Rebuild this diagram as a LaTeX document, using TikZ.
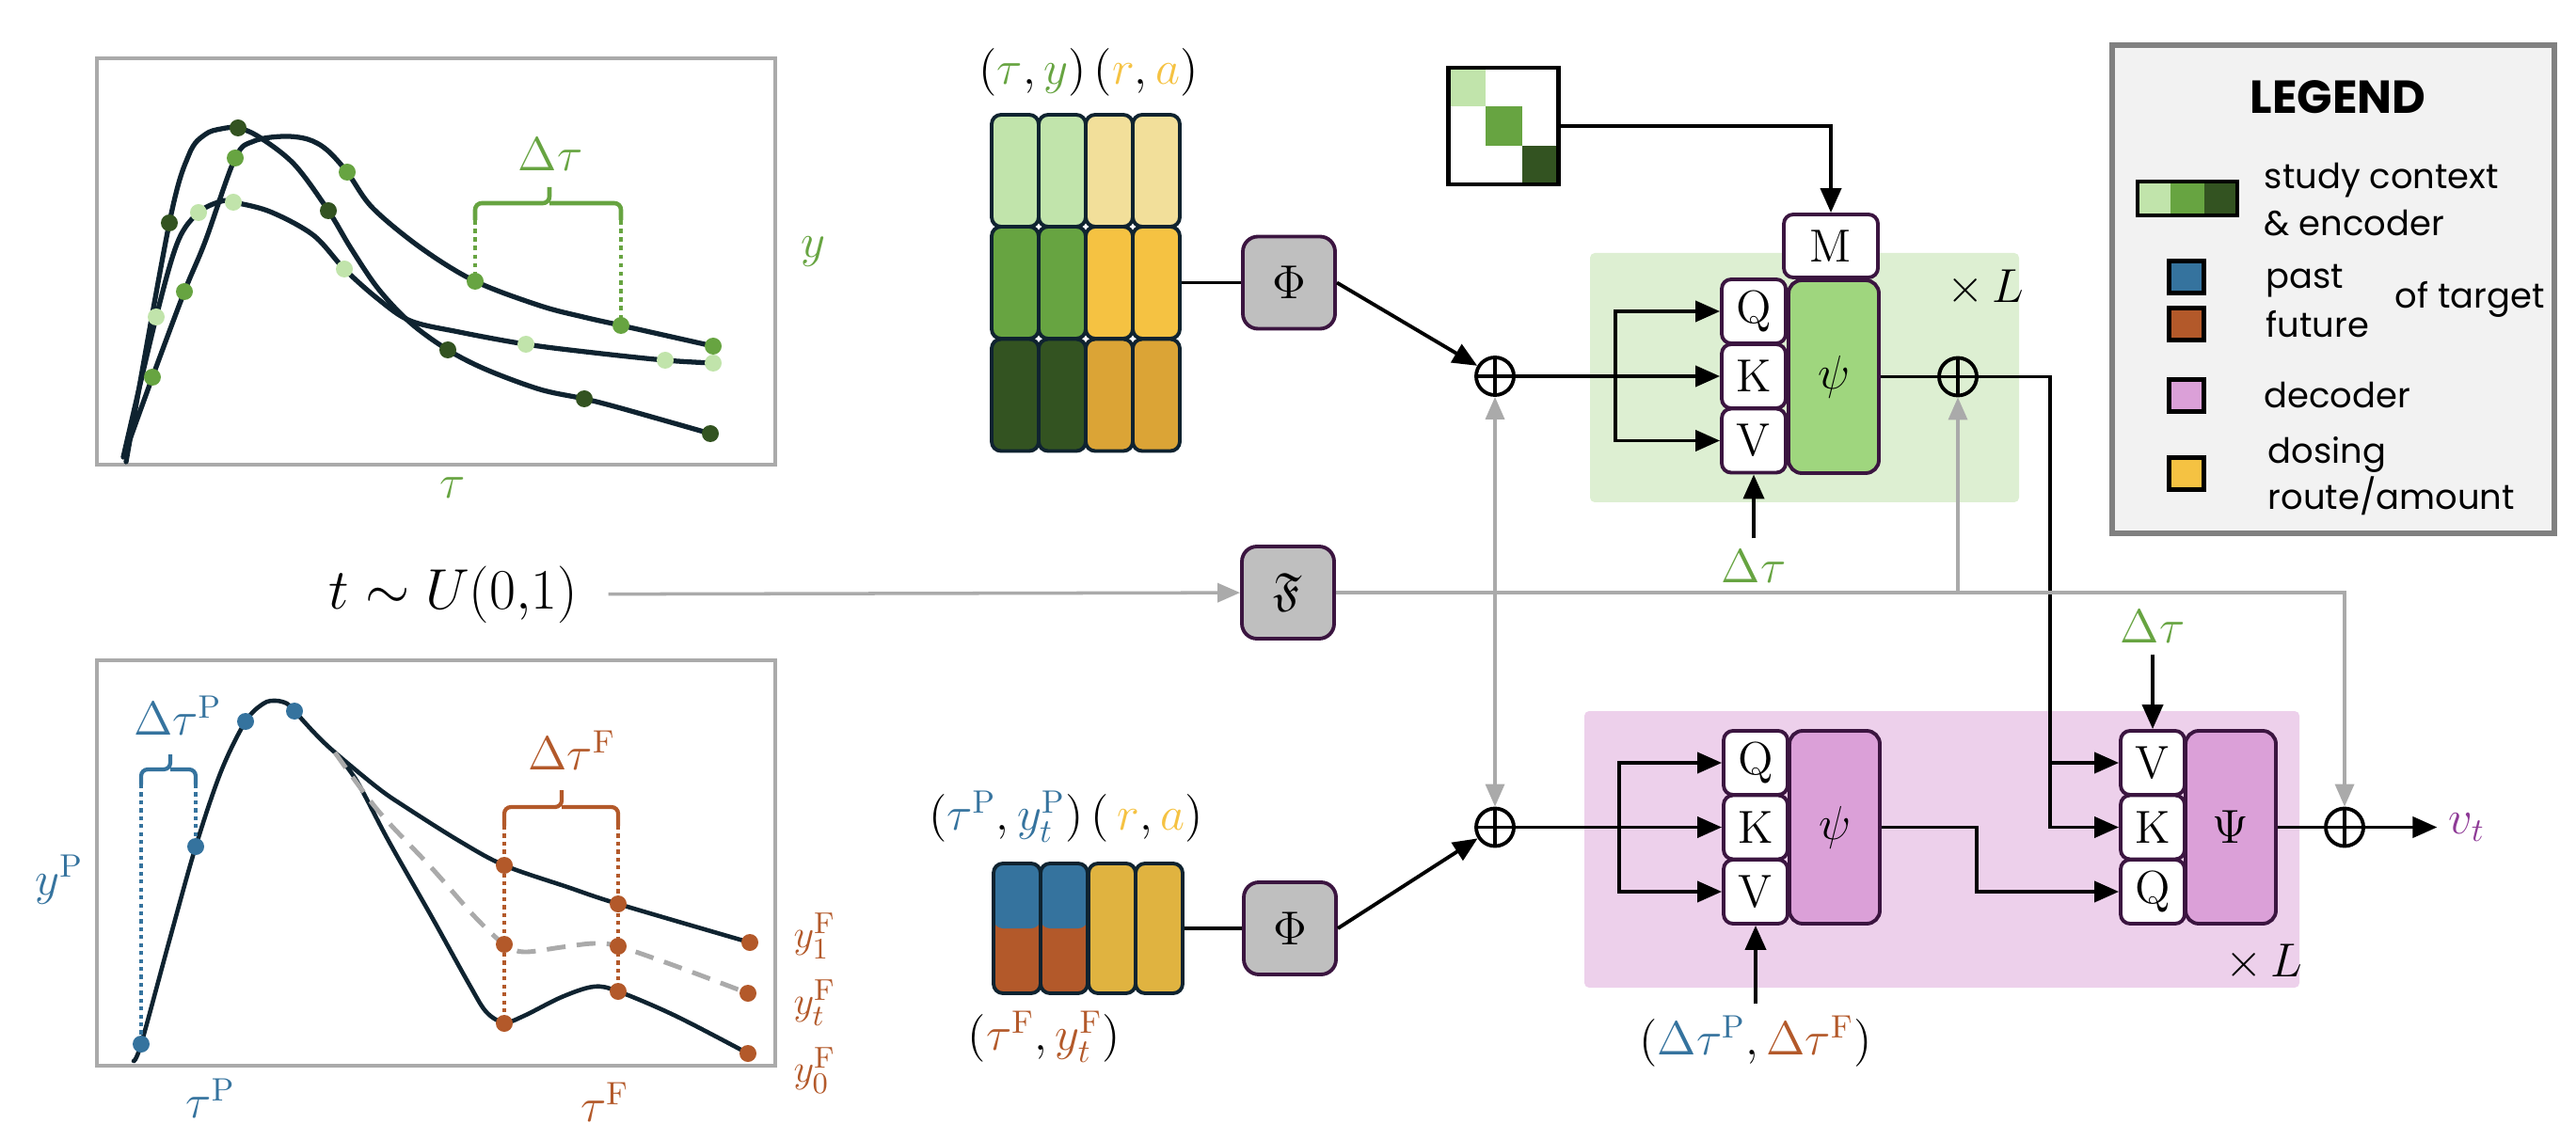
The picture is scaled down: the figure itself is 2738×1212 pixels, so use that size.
\documentclass[tikz,border=0pt]{standalone}
\usepackage{amsmath, amssymb}
\usepackage{fontspec}
\newfontfamily\legendfont{Poppins}
\usepackage{tikz}
\usetikzlibrary{positioning, calc, arrows.meta}

\definecolor{ctxlight}{HTML}{C1E4AB}
\definecolor{ctxmid}{HTML}{67A441}
\definecolor{ctxdark}{HTML}{335321}
\definecolor{doselight}{HTML}{F2DF9A}
\definecolor{dosemid}{HTML}{F5C242}
\definecolor{dosedark}{HTML}{DBA436}
\definecolor{dosebot}{HTML}{E0B340}
\definecolor{past}{HTML}{35739E}
\definecolor{fut}{HTML}{B3592A}
\definecolor{decfill}{HTML}{DBA0D8}
\definecolor{decbg}{HTML}{EDD0EB}
\definecolor{encfill}{HTML}{9FD67E}
\definecolor{encbg}{HTML}{DDEFD2}
\definecolor{opgray}{HTML}{BFBFBF}
\definecolor{boxborder}{HTML}{3B1540}
\definecolor{curvenavy}{HTML}{0F2330}
\definecolor{linegray}{HTML}{AAAAAA}
\definecolor{vtpurple}{HTML}{8E3A96}
\definecolor{legbg}{HTML}{F2F2F2}
\definecolor{legborder}{HTML}{808080}

\begin{document}
\begin{tikzpicture}[x=0.1mm, y=-0.1mm, font=\fontsize{14}{17}\selectfont]
\useasboundingbox (0,0) rectangle (2738,1212);

% Define styles
\tikzstyle{token} = [rectangle, rounded corners=1mm, draw=curvenavy, line width=1.1pt, minimum width=5mm, minimum height=11.9mm, inner sep=0pt]
\tikzstyle{op} = [rectangle, rounded corners=1.6mm, draw=boxborder, fill=opgray, line width=1.1pt, minimum width=9.8mm, minimum height=9.8mm]
\tikzstyle{qkv} = [rectangle, rounded corners=1mm, draw=boxborder, fill=white, line width=1.1pt, minimum width=6.8mm, minimum height=6.8mm, inner sep=0pt]
\tikzstyle{mix} = [rectangle, rounded corners=1.4mm, draw=boxborder, line width=1.1pt, minimum width=9.6mm, minimum height=20.5mm]
\tikzstyle{plus} = [circle, draw, line width=1.1pt, minimum size=4mm, inner sep=0pt, path picture={\draw[line width=1.1pt] (path picture bounding box.north) -- (path picture bounding box.south) (path picture bounding box.west) -- (path picture bounding box.east);}]
\tikzstyle{arrow} = [line width=1.1pt, -{Triangle[length=2.6mm, width=2.2mm]}]
\tikzstyle{garrow} = [line width=1pt, draw=linegray, -{Triangle[length=2.4mm, width=2mm]}]
\tikzstyle{gline} = [line width=1pt, draw=linegray]
\tikzstyle{curve} = [draw=curvenavy, line width=1.5pt, line cap=round]
\tikzstyle{plotframe} = [draw=linegray, line width=1.3pt]
\tikzstyle{legkey} = [rectangle, draw=black, line width=1.3pt, minimum width=3.7mm, minimum height=3.4mm, inner sep=0pt]
\tikzstyle{legtext} = [anchor=west, align=left, inner sep=0pt, font=\legendfont\fontsize{10.5}{14}\selectfont]

% Block backgrounds
\node[rectangle, rounded corners=0.5mm, fill=encbg, minimum width=45.6mm, minimum height=26.5mm] (encblock) at (1918,401.5) {};
\node[rectangle, rounded corners=0.5mm, fill=decbg, minimum width=76mm, minimum height=29.4mm] (decblock) at (2064,903) {};

% Top plot - study context curves
\draw[plotframe] (103,62) rectangle (824,494);
\draw[curve] plot[smooth, tension=0.55] coordinates {(134,491) (180,237) (201,164) (218,143) (235,137) (253,136) (276,146) (313,175) (349,224) (373,264) (402,307) (436,343) (476,372) (517,393) (574,414) (621,424) (660,434) (755,461)};
\draw[curve] plot[smooth, tension=0.55] coordinates {(132,484) (162,401) (196,310) (218,257) (250,168) (270,150) (301,145) (327,148) (347,159) (369,183) (396,221) (448,264) (505,299) (574,325) (620,337) (660,346) (758,368)};
\draw[curve] plot[smooth, tension=0.55] coordinates {(131,486) (166,337) (189,257) (211,226) (235,214) (248,215) (287,225) (333,250) (366,286) (402,318) (436,341) (488,353) (559,366) (631,375) (707,383) (758,386)};
\foreach \x/\y in {180/237, 253/136, 349/224, 476/372, 621/424, 755/461}
  \fill[ctxdark] (\x,\y) circle (0.9mm);
\foreach \x/\y in {162/401, 196/310, 250/168, 369/183, 505/299, 660/346, 758/368}
  \fill[ctxmid] (\x,\y) circle (0.9mm);
\foreach \x/\y in {166/337, 211/226, 248/215, 366/286, 559/366, 707/383, 758/386}
  \fill[ctxlight] (\x,\y) circle (0.9mm);
\draw[ctxmid, line width=1.3pt, rounded corners=2pt] (505,234) |- (584,216) -- (584,199);
\draw[ctxmid, line width=1.3pt, rounded corners=2pt] (584,216) -| (660,234);
\draw[ctxmid, line width=1.3pt, dash pattern=on 1.3pt off 1.3pt] (505,234) -- (505,299) (660,234) -- (660,346);
\node[text=ctxmid] (ctxdtau) at (585,164) {$\Delta\tau$};
\node[text=ctxmid] (ctxy) at (864,268) {$y$};
\node[text=ctxmid] (ctxtau) at (481,519) {$\tau$};

% Bottom plot - target past and future
\draw[plotframe] (103,702) rectangle (824,1133);
\draw[curve, line width=1.3pt] plot[smooth, tension=0.55] coordinates {(142,1128) (150,1110) (180,1000) (208,900) (235,820) (261,767) (280,748) (293,745) (305,748) (313,756) (335,780) (356,800) (402,838) (431,858) (488,894) (536,920) (603,943) (657,961) (797,1002)};
\draw[curve, line width=1.3pt] plot[smooth, tension=0.55] coordinates {(356,800) (379,830) (413,894) (459,975) (499,1047) (517,1076) (536,1087) (557,1080) (597,1060) (631,1049) (657,1054) (718,1080) (795,1120)};
\draw[linegray, line width=1.4pt, dash pattern=on 2mm off 1.2mm] plot[smooth, tension=0.55] coordinates {(356,800) (402,862) (459,923) (505,975) (536,1004) (557,1012) (597,1007) (631,1003) (657,1006) (718,1027) (795,1056)};
\foreach \x/\y in {150/1110, 208/900, 261/767, 313/756}
  \fill[past] (\x,\y) circle (0.9mm);
\foreach \x/\y in {536/920, 536/1004, 536/1088, 657/961, 657/1006, 657/1054, 797/1002, 795/1056, 795/1120}
  \fill[fut] (\x,\y) circle (0.9mm);
\draw[past, line width=1.2pt, rounded corners=2pt] (150,834) |- (181,818) -- (181,802);
\draw[past, line width=1.2pt, rounded corners=2pt] (181,818) -| (208,834);
\draw[past, line width=1.2pt, dash pattern=on 1.2pt off 1.2pt] (150,834) -- (150,1110) (208,834) -- (208,900);
\draw[fut, line width=1.2pt, rounded corners=2pt] (536,878) |- (597,858) -- (597,840);
\draw[fut, line width=1.2pt, rounded corners=2pt] (597,858) -| (657,878);
\draw[fut, line width=1.2pt, dash pattern=on 1.2pt off 1.2pt] (536,878) -- (536,1088) (657,878) -- (657,1054);
\node[text=past] (pastdtau) at (189,761) {$\Delta\tau^{\mathrm{P}}$};
\node[text=fut] (futdtau) at (608,798) {$\Delta\tau^{\mathrm{F}}$};
\node[text=past] (pasty) at (63,935) {$y^{\mathrm{P}}$};
\node[text=past] (pasttau) at (224,1168) {$\tau^{\mathrm{P}}$};
\node[text=fut] (futtau) at (643,1172) {$\tau^{\mathrm{F}}$};
\node[text=fut, inner sep=0pt, font=\fontsize{13}{15}\selectfont] (futyone) at (866,995) {$y_1^{\mathrm{F}}$};
\node[text=fut, inner sep=0pt, font=\fontsize{13}{15}\selectfont] (futyt) at (866,1066) {$y_t^{\mathrm{F}}$};
\node[text=fut, inner sep=0pt, font=\fontsize{13}{15}\selectfont] (futyzero) at (866,1138) {$y_0^{\mathrm{F}}$};

% Context tokens
\node (ctxlabel) at (1157,77) {$(\textcolor{ctxmid}{\tau},\textcolor{ctxmid}{y})\,(\textcolor{dosemid}{r},\textcolor{dosemid}{a})$};
\foreach \rw/\ya/\gc/\dc in {1/181.5/ctxlight/doselight, 2/300.5/ctxmid/dosemid, 3/420/ctxdark/dosedark} {
  \node[token, fill=\gc] (tok\rw1) at (1079,\ya) {};
  \node[token, fill=\gc] (tok\rw2) at (1129,\ya) {};
  \node[token, fill=\dc] (tok\rw3) at (1179,\ya) {};
  \node[token, fill=\dc] (tok\rw4) at (1229,\ya) {};
}
\node[op] (phienc) at (1370,300.5) {$\Phi$};

% Target tokens
\node[inner sep=0pt] (pastlabel) at (1133,868) {$(\textcolor{past}{\tau^{\mathrm{P}}},\textcolor{past}{y_t^{\mathrm{P}}})\,(\,\textcolor{dosemid}{r},\textcolor{dosemid}{a})$};
\node[inner sep=0pt] (futlabel) at (1110,1102) {$(\textcolor{fut}{\tau^{\mathrm{F}}},\textcolor{fut}{y_t^{\mathrm{F}}})$};
\foreach \i/\xa in {1/1081, 2/1131}
  \node[token, minimum height=13.8mm, fill=fut, path picture={\fill[past] (path picture bounding box.north west) rectangle (path picture bounding box.east);}] (dtok\i) at (\xa,987) {};
\foreach \i/\xa in {3/1182, 4/1232}
  \node[token, minimum height=13.8mm, fill=dosebot] (dtok\i) at (\xa,987) {};
\node[op] (phidec) at (1371,987) {$\Phi$};

% Time embedding
\node[font=\fontsize{16}{19}\selectfont] (tnoise) at (482,632) {$t \sim U(0{,}1)$};
\node[op] (fourier) at (1369,630) {$\mathfrak{F}$};

% Mask
\node[rectangle, draw=black, line width=1.4pt, minimum width=11.7mm, minimum height=12.4mm, path picture={
  \fill[ctxlight] (path picture bounding box.north west) rectangle ($(path picture bounding box.north west)!1/3!(path picture bounding box.south east)$);
  \fill[ctxmid] ($(path picture bounding box.north west)!1/3!(path picture bounding box.south east)$) rectangle ($(path picture bounding box.north west)!2/3!(path picture bounding box.south east)$);
  \fill[ctxdark] ($(path picture bounding box.north west)!2/3!(path picture bounding box.south east)$) rectangle (path picture bounding box.south east);}] (mask) at (1598,134) {};

% Encoder block
\node[plus] (sumenc) at (1589,400) {};
\node[qkv] (encq) at (1864,331) {Q};
\node[qkv] (enck) at (1864,400) {K};
\node[qkv] (encv) at (1864,468.5) {V};
\node[mix, fill=encfill] (encpsi) at (1949,400.5) {$\psi$};
\node[qkv, minimum width=10mm, minimum height=6.7mm] (maskin) at (1946,261.5) {M};
\node[plus] (sumblk) at (2081,400.5) {};
\node (encrep) at (2110,306) {$\times\, L$};
\node[text=ctxmid] (encdt) at (1864,602) {$\Delta\tau$};

% Decoder block
\node[plus] (sumdec) at (1589,879.5) {};
\node[qkv] (decq) at (1866,811) {Q};
\node[qkv] (deck) at (1866,879.5) {K};
\node[qkv] (decv) at (1866,948) {V};
\node[mix, fill=decfill] (decpsi) at (1950,879.5) {$\psi$};
\node[qkv] (crossv) at (2288,811) {V};
\node[qkv] (crossk) at (2288,879.5) {K};
\node[qkv] (crossq) at (2288,948) {Q};
\node[mix, fill=decfill] (crosspsi) at (2371,879.5) {$\Psi$};
\node (decrep) at (2406,1023) {$\times\, L$};
\node (decdt) at (1866,1107) {$(\textcolor{past}{\Delta\tau^{\mathrm{P}}},\textcolor{fut}{\Delta\tau^{\mathrm{F}}})$};
\node[text=ctxmid] (crossdt) at (2288,666) {$\Delta\tau$};
\node[plus] (sumout) at (2492,879.5) {};
\node[text=vtpurple] (vt) at (2622,879.5) {$v_t$};

% Encoder connections
\draw[line width=1.1pt] (tok24.east) -- (phienc.west);
\draw[arrow] (phienc.east) -- (sumenc);
\coordinate (encsplit) at (1717,400);
\draw[arrow] (sumenc) -- (enck);
\draw[arrow] (encsplit) |- (encq);
\draw[arrow] (encsplit) |- (encv);
\draw[arrow] (mask.east) -| (maskin.north);
\draw[arrow] (encdt) -- (encv);
\draw[line width=1.1pt] (encpsi) -- (sumblk);
\coordinate (crossbus) at (2179,879.5);
\draw[arrow] (sumblk) -| (crossbus) -- (crossk);
\draw[arrow] (crossbus |- crossv) -- (crossv);

% Decoder connections
\draw[line width=1.1pt] (dtok4.east) -- (phidec.west);
\draw[arrow] (phidec.east) -- (sumdec);
\coordinate (decsplit) at (1721,879.5);
\draw[arrow] (sumdec) -- (deck);
\draw[arrow] (decsplit) |- (decq);
\draw[arrow] (decsplit) |- (decv);
\draw[arrow] (decdt) -- (decv);
\coordinate (decbend) at (2101,879.5);
\draw[arrow] (decpsi.east) -- (decbend) |- (crossq);
\draw[arrow] (crossdt) -- (crossv);
\draw[line width=1.1pt] (crosspsi) -- (sumout);
\draw[arrow] (sumout) -- (vt);

% Time connections
\draw[garrow, shorten <=2mm] (tnoise) -- (fourier);
\coordinate (tsplit) at (1589,630);
\draw[gline] (fourier) -- (tsplit);
\draw[garrow] (tsplit) -- (sumenc);
\draw[garrow] (tsplit) -- (sumdec);
\draw[garrow] (fourier.east) -| (sumblk);
\draw[garrow] (fourier.east) -| (sumout);

% Legend
\node[rectangle, draw=legborder, fill=legbg, line width=1.6pt, minimum width=47mm, minimum height=51.9mm] (legend) at (2480,307.5) {};
\node[font=\legendfont\bfseries\fontsize{14}{16}\selectfont] (legtitle) at (2485,103) {LEGEND};
\node[legkey, minimum width=10.6mm, minimum height=3.6mm, path picture={
  \fill[ctxlight] (path picture bounding box.south west) rectangle ($(path picture bounding box.north west)!1/3!(path picture bounding box.north east)$);
  \fill[ctxmid] ($(path picture bounding box.south west)!1/3!(path picture bounding box.south east)$) rectangle ($(path picture bounding box.north west)!2/3!(path picture bounding box.north east)$);
  \fill[ctxdark] ($(path picture bounding box.south west)!2/3!(path picture bounding box.south east)$) rectangle (path picture bounding box.north east);}] (legctx) at (2325,211) {};
\node[legkey, fill=past] (legpast) at (2324,294.5) {};
\node[legkey, fill=fut] (legfut) at (2324,344.5) {};
\node[legkey, fill=decfill] (legdec) at (2324,420.5) {};
\node[legkey, fill=dosemid] (legdose) at (2324,503.5) {};
\node[legtext] (legctxtext) at (2406,212) {study context\\\& encoder};
\node[legtext] (legpasttext) at (2408,299) {past};
\node[legtext] (legfuttext) at (2408,345) {future};
\node[legtext] (legtarget) at (2545,318) {of target};
\node[legtext] (legdectext) at (2406,420) {decoder};
\node[legtext] (legdosetext) at (2410,506) {dosing\\route/amount};

\end{tikzpicture}
\end{document}
